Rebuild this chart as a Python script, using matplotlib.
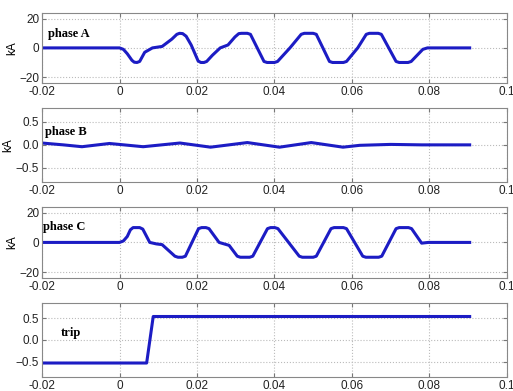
import matplotlib
matplotlib.use('Agg')
import matplotlib.pyplot as plt

# breakpoints (time in s, current in kA)
t_a = [-0.02, 0.0, 0.001, 0.002, 0.0032, 0.0038, 0.0045, 0.0052, 0.0065, 0.0085, 0.011,
       0.0135, 0.0148, 0.0155, 0.0163, 0.0172, 0.0185, 0.0203, 0.021, 0.0218, 0.0225, 0.024,
       0.026, 0.028, 0.0298, 0.0308, 0.0315, 0.033, 0.0338, 0.0373, 0.0381, 0.04, 0.0408,
       0.044, 0.0469, 0.0477, 0.05, 0.0508, 0.0542, 0.055, 0.0578, 0.0586, 0.0615, 0.0637,
       0.0645, 0.0668, 0.0676, 0.0714, 0.0722, 0.0745, 0.0753, 0.0783, 0.0795, 0.0904]
i_a = [0, 0, -1, -4, -8.5, -9.8, -10, -9.3, -3, 0, 1,
       6, 9.3, 10, 9.8, 8, 2, -9, -10, -10, -9.3, -5,
       0, 2, 7.5, 9.8, 10, 10, 9.3, -9.3, -10, -10, -9.3,
       0, 9.3, 10, 10, 9.3, -9.3, -10, -10, -9.3, 0, 9.3,
       10, 10, 9.3, -9.3, -10, -10, -9.3, -1, 0, 0]

t_b = [-0.02, -0.0145, -0.0097, -0.0026, 0.0061, 0.0156, 0.0235, 0.033, 0.0413, 0.0495,
       0.0577, 0.062, 0.07, 0.078, 0.0904]
i_b = [0.04, 0.0, -0.04, 0.03, -0.04, 0.04, -0.05, 0.05, -0.05, 0.05,
       -0.05, -0.01, 0.01, 0.0, 0.0]

t_c = [-0.02, 0.0, 0.001, 0.002, 0.0028, 0.0035, 0.0052, 0.006, 0.0078, 0.0095, 0.011,
       0.0143, 0.0151, 0.0162, 0.017, 0.0204, 0.0212, 0.0223, 0.0231, 0.0257, 0.0283, 0.0304,
       0.0312, 0.0336, 0.0344, 0.0382, 0.039, 0.0401, 0.0409, 0.0464, 0.0472, 0.05, 0.0508,
       0.0546, 0.0554, 0.0578, 0.0586, 0.0628, 0.0636, 0.0669, 0.0677, 0.0714, 0.0722, 0.0746,
       0.0754, 0.078, 0.0797, 0.0904]
i_c = [0, 0, 1, 4, 8.5, 10, 10, 9, 0, -1, -1.5,
       -9.3, -10, -10, -9.3, 9.3, 10, 10, 9.3, 0, -2, -9.3,
       -10, -10, -9.3, 9.3, 10, 10, 9.3, -9.3, -10, -10, -9.3,
       9.3, 10, 10, 9.3, -9.3, -10, -10, -9.3, 9.3, 10, 10,
       9.3, -0.5, 0, 0]

t_trip = [-0.02, 0.007, 0.0087, 0.0904]
trip = [-0.53, -0.53, 0.54, 0.54]

panels = [
    (t_a, i_a, 'phase A', (-24, 24), [-20, 0, 20], 'kA', (0.013, 0.70)),
    (t_b, i_b, 'phase B', (-0.8, 0.8), [-0.5, 0, 0.5], 'kA', (0.006, 0.67)),
    (t_c, i_c, 'phase C', (-24, 24), [-20, 0, 20], 'kA', (0.002, 0.71)),
    (t_trip, trip, 'trip', (-0.85, 0.85), [-0.5, 0, 0.5], '', (0.041, 0.59)),
]
bottoms = [0.788, 0.535, 0.289, 0.036]
tops = [0.967, 0.724, 0.471, 0.225]

fig = plt.figure(figsize=(5.13, 3.91), dpi=100)
for (t, y, name, ylim, yt, ylab, tpos), b, tp in zip(panels, bottoms, tops):
    ax = fig.add_axes([0.082, b, 0.906, tp - b])
    ax.plot(t, y, color='#1c1cc4', linewidth=2.2, solid_joinstyle='round')
    ax.set_xlim(-0.02, 0.1)
    ax.set_ylim(*ylim)
    ax.set_yticks(yt)
    ax.set_xticks([-0.02, 0, 0.02, 0.04, 0.06, 0.08, 0.1])
    ax.set_xticklabels(['-0.02', '0', '0.02', '0.04', '0.06', '0.08', '0.1'])
    ax.grid(True, linestyle=':', color='#bbbbbb', linewidth=0.8)
    ax.tick_params(direction='in', labelsize=8.5, length=3, color='#777777',
                   labelcolor='#222222', top=True, right=True, pad=2)
    for lab in ax.get_xticklabels() + ax.get_yticklabels():
        lab.set_family('Liberation Sans')
    for s in ax.spines.values():
        s.set_color('#888888')
    if ylab:
        ax.set_ylabel(ylab, fontsize=8.5, family='Liberation Sans', labelpad=1)
    ax.text(tpos[0], tpos[1], name, transform=ax.transAxes, family='Liberation Serif',
            fontweight='bold', fontsize=9, va='center', ha='left')

plt.savefig('out.png')
plt.close('all')
